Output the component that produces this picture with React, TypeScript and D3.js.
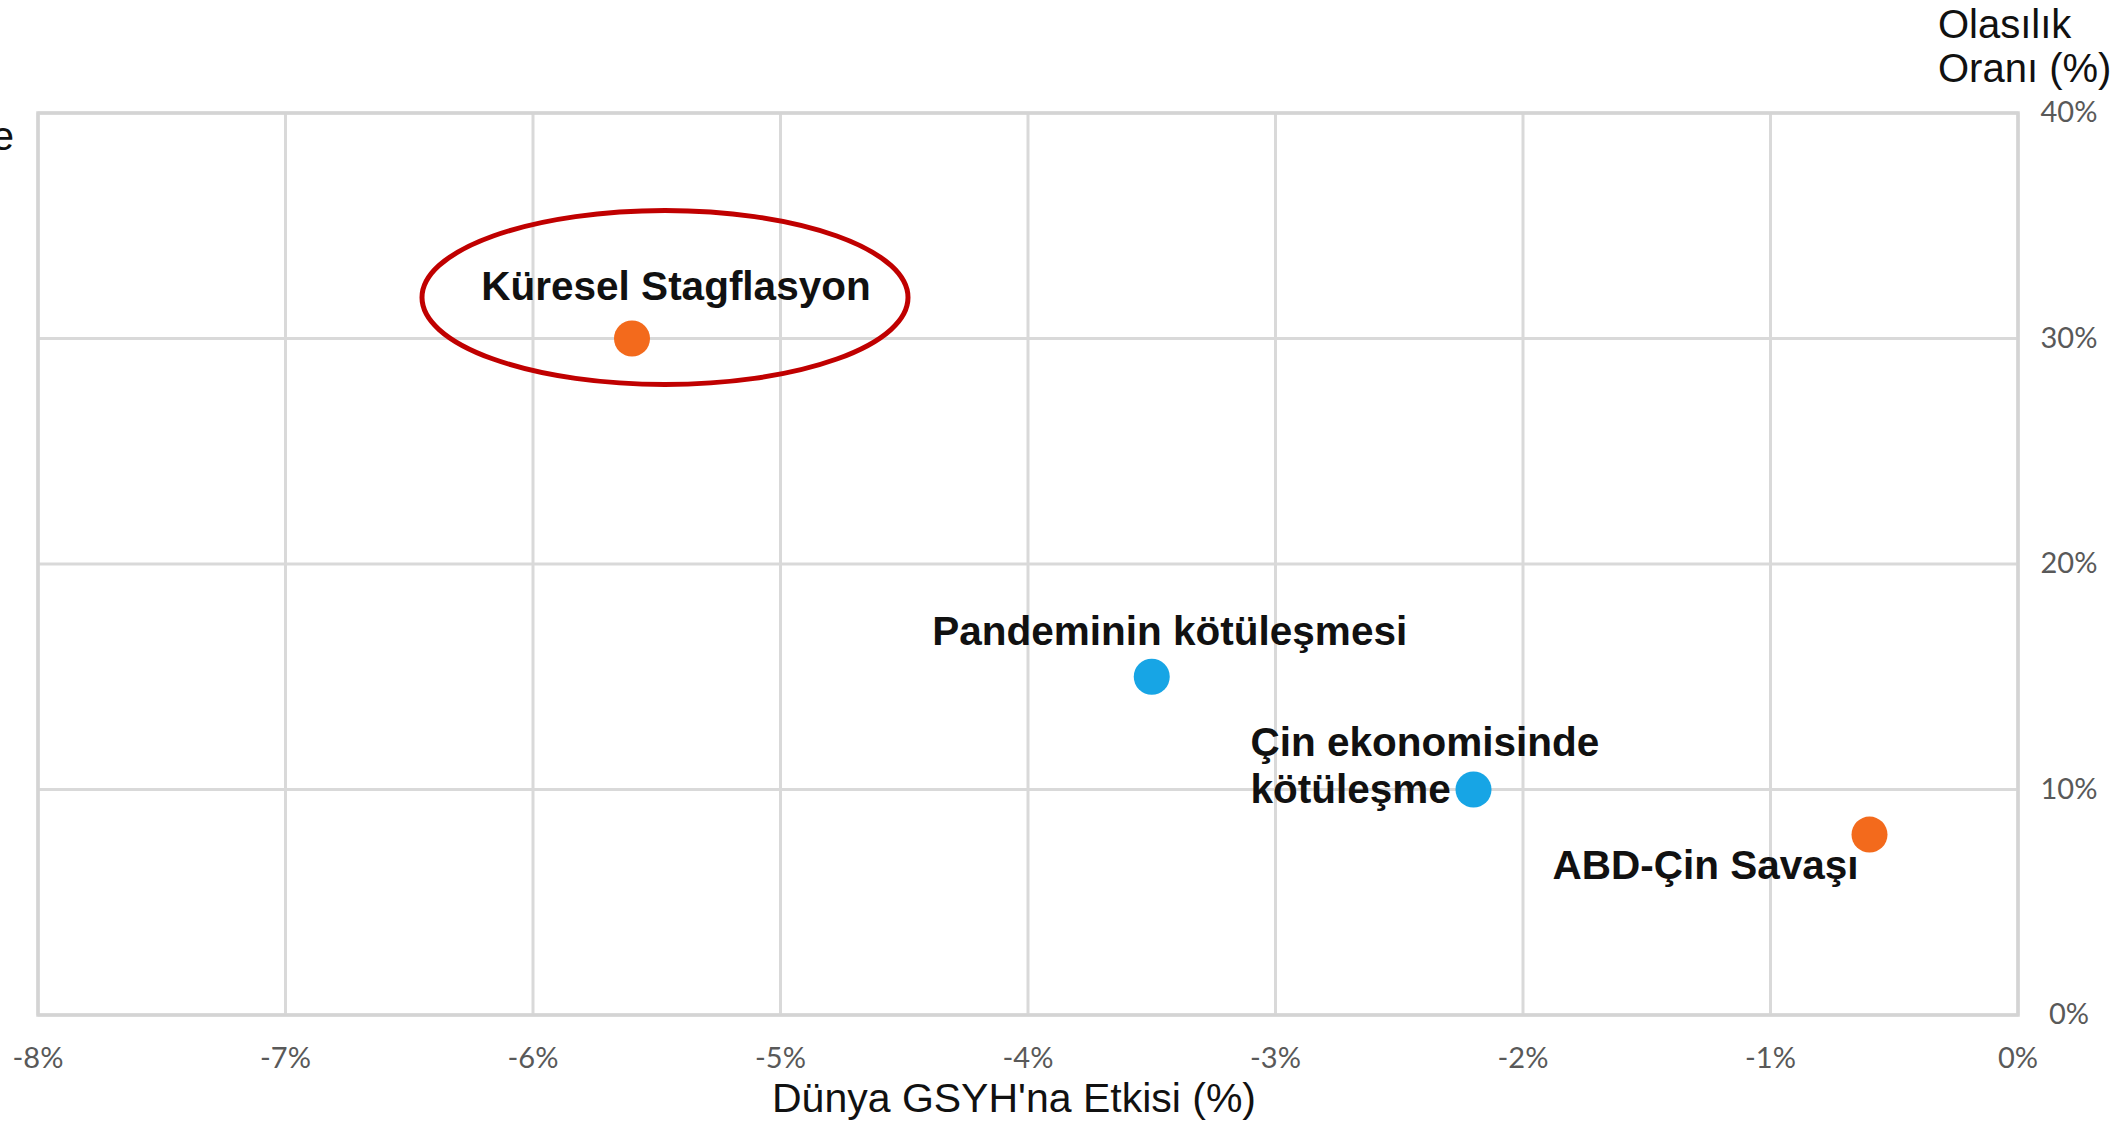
import React from 'react';
import * as d3 from 'd3';

// scenario data (x: impact on world GDP %, y: probability %)
const scenarios = ['Küresel Stagflasyon', 'Pandeminin kötüleşmesi', 'Çin ekonomisinde kötüleşme', 'ABD-Çin Savaşı'];
const gdpImpact = [-5.6, -3.5, -2.2, -0.6];
const probability = [30, 15, 10, 8];
const pointGroup = ['orange', 'blue', 'blue', 'orange'];

const xTicks = [-8, -7, -6, -5, -4, -3, -2, -1, 0];
const yTicks = [0, 10, 20, 30, 40];
const xTitle = "Dünya GSYH'na Etkisi (%)";
const yTitle = ['Olasılık', 'Oranı (%)'];

const colors: Record<string, string> = { orange: '#f36a1c', blue: '#17a5e5' };

// label layout relative to each point: lines, anchor, dx, dy of first baseline
const labelLayout = [
  { lines: ['Küresel Stagflasyon'], anchor: 'middle', dx: 44, dy: -39 },
  { lines: ['Pandeminin kötüleşmesi'], anchor: 'middle', dx: 18, dy: -32 },
  { lines: ['Çin ekonomisinde', 'kötüleşme'], anchor: 'start', dx: -223, dy: -34 },
  { lines: ['ABD-Çin Savaşı'], anchor: 'end', dx: -11, dy: 44 },
];

const W = 2121;
const H = 1124;
const margin = { left: 38, right: 103, top: 113, bottom: 109 };

const App: React.FC = () => {
  const x = d3.scaleLinear().domain([-8, 0]).range([margin.left, W - margin.right]);
  const y = d3.scaleLinear().domain([0, 40]).range([H - margin.bottom, margin.top]);

  const tickFont = "Lato, 'Open Sans', sans-serif";
  const mainFont = "'Liberation Sans', Arial, sans-serif";

  return (
    <svg
      width={W}
      height={H}
      style={{ position: 'absolute', left: 0, top: 0, background: '#fff' }}
    >
      {/* grid */}
      <g stroke="#d9d9d9" strokeWidth={3}>
        {xTicks.map((t) => (
          <line key={'gx' + t} x1={x(t)} x2={x(t)} y1={y(0)} y2={y(40)} />
        ))}
        {yTicks.map((t) => (
          <line key={'gy' + t} x1={x(-8)} x2={x(0)} y1={y(t)} y2={y(t)} />
        ))}
      </g>
      <rect
        x={x(-8)}
        y={y(40)}
        width={x(0) - x(-8)}
        height={y(0) - y(40)}
        fill="none"
        stroke="#d4d4d4"
        strokeWidth={3.5}
      />

      {/* x tick labels */}
      {xTicks.map((t) => (
        <text
          key={'xl' + t}
          x={x(t)}
          y={y(0) + 53}
          textAnchor="middle"
          fontFamily={tickFont}
          fontSize={29}
          fill="#595959"
        >
          {t + '%'}
        </text>
      ))}

      {/* y tick labels */}
      {yTicks.map((t) => (
        <text
          key={'yl' + t}
          x={x(0) + 51}
          y={y(t) + 9}
          textAnchor="middle"
          fontFamily={tickFont}
          fontSize={29}
          fill="#595959"
        >
          {t + '%'}
        </text>
      ))}

      {/* axis titles */}
      <text x={(x(-8) + x(0)) / 2 - 14} y={1112} textAnchor="middle" fontFamily={mainFont} fontSize={41} fill="#111">
        {xTitle}
      </text>
      {yTitle.map((line, i) => (
        <text key={line} x={1938} y={38 + i * 44} fontFamily={mainFont} fontSize={40} fill="#111">
          {line}
        </text>
      ))}

      {/* cut-off label at the left edge */}
      <text x={14} y={150} textAnchor="end" fontFamily={mainFont} fontSize={40} fill="#111">
        e
      </text>

      {/* highlight ellipse */}
      <ellipse
        cx={x(gdpImpact[0]) + 33}
        cy={y(probability[0]) - 41}
        rx={243}
        ry={87}
        fill="none"
        stroke="#c00000"
        strokeWidth={5}
      />

      {/* points */}
      {scenarios.map((s, i) => (
        <circle key={s} cx={x(gdpImpact[i])} cy={y(probability[i])} r={18} fill={colors[pointGroup[i]]} />
      ))}

      {/* point labels */}
      {scenarios.map((s, i) => {
        const l = labelLayout[i];
        return (
          <text
            key={'lab' + s}
            textAnchor={l.anchor}
            fontFamily={mainFont}
            fontWeight="bold"
            fontSize={40.5}
            fill="#111"
          >
            {l.lines.map((line, j) => (
              <tspan key={line} x={x(gdpImpact[i]) + l.dx} y={y(probability[i]) + l.dy + j * 47}>
                {line}
              </tspan>
            ))}
          </text>
        );
      })}
    </svg>
  );
};

export default App;
